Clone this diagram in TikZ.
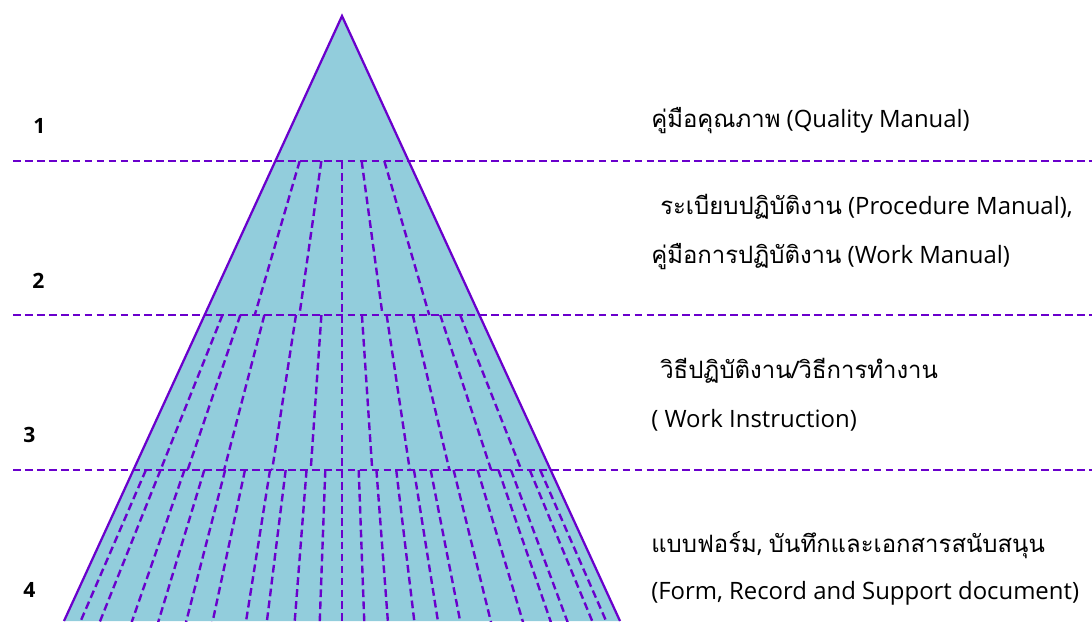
\documentclass[tikz,border=0pt]{standalone}
\usepackage{fontspec}
\setmainfont{Open Sans}
\newfontfamily\thai[Script=Thai]{Loma}
\definecolor{pyrline}{RGB}{106,0,204}
\definecolor{pyrfill}{RGB}{146,205,220}

\begin{document}
\begin{tikzpicture}[x=0.025cm, y=-0.025cm, every node/.style={font=\fontsize{17}{20}\selectfont, inner sep=0pt}, lvl/.style={font=\fontsize{15}{18}\selectfont\bfseries, anchor=base west}, desc/.style={anchor=base west}, sep/.style={pyrline, line width=1.7pt, dash pattern=on 5.5pt off 3pt}]
	\useasboundingbox (0,0) rectangle (1092,621);
	\coordinate (top) at (342,16); \coordinate (bl) at (64,621); \coordinate (br) at (620,621);
	\fill[pyrfill] (bl) -- (top) -- (br) -- cycle;
	% dashed rays inside each band
	\foreach \f in {-0.635,-0.31,0,0.295,0.635} {\draw[sep] ({342+(\f)*0.4595*145},161) -- ({342+(\f)*0.4595*299},315);}
	\foreach \f in {-0.87,-0.74,-0.565,-0.335,-0.15,0,0.145,0.325,0.515,0.715,0.86} {\draw[sep] ({342+(\f)*0.4595*299},315) -- ({342+(\f)*0.4595*454},470);}
	\foreach \f in {-0.94,-0.87,-0.755,-0.66,-0.56,-0.465,-0.345,-0.27,-0.17,-0.08,0,0.08,0.165,0.26,0.345,0.425,0.535,0.65,0.75,0.81,0.90,0.95} {\draw[sep] ({342+(\f)*0.4595*454},470) -- ({342+(\f)*0.4595*610},626);}
	\foreach \y in {161,315,470} {\draw[sep] (13,\y) -- (1092,\y);}
	\draw[pyrline, line width=1.6pt, line join=miter] (bl) -- (top) -- (br);
	% level numbers
	\node[lvl] (n1) at (33,133) {1}; \node[lvl] (n2) at (32,288) {2}; \node[lvl] (n3) at (23,442) {3}; \node[lvl] (n4) at (23,597) {4};
	% descriptions
	\node[desc] (qm) at (651,127) {{\thai คู่มือคุณภาพ} (Quality Manual)};
	\node[desc] (pm) at (660,214) {{\thai ระเบียบปฏิบัติงาน} (Procedure Manual),};
	\node[desc] (wm) at (651,263) {{\thai คู่มือการปฏิบัติงาน} (Work Manual)};
	\node[desc] (wi) at (660,378) {{\thai วิธีปฏิบัติงาน/วิธีการทำงาน}};
	\node[desc] (wie) at (651,427) {( Work Instruction)};
	\node[desc] (fr) at (651,552) {{\thai แบบฟอร์ม}, {\thai บันทึกและเอกสารสนับสนุน}};
	\node[desc] (fre) at (651,599) {(Form, Record and Support document)};
\end{tikzpicture}
\end{document}
